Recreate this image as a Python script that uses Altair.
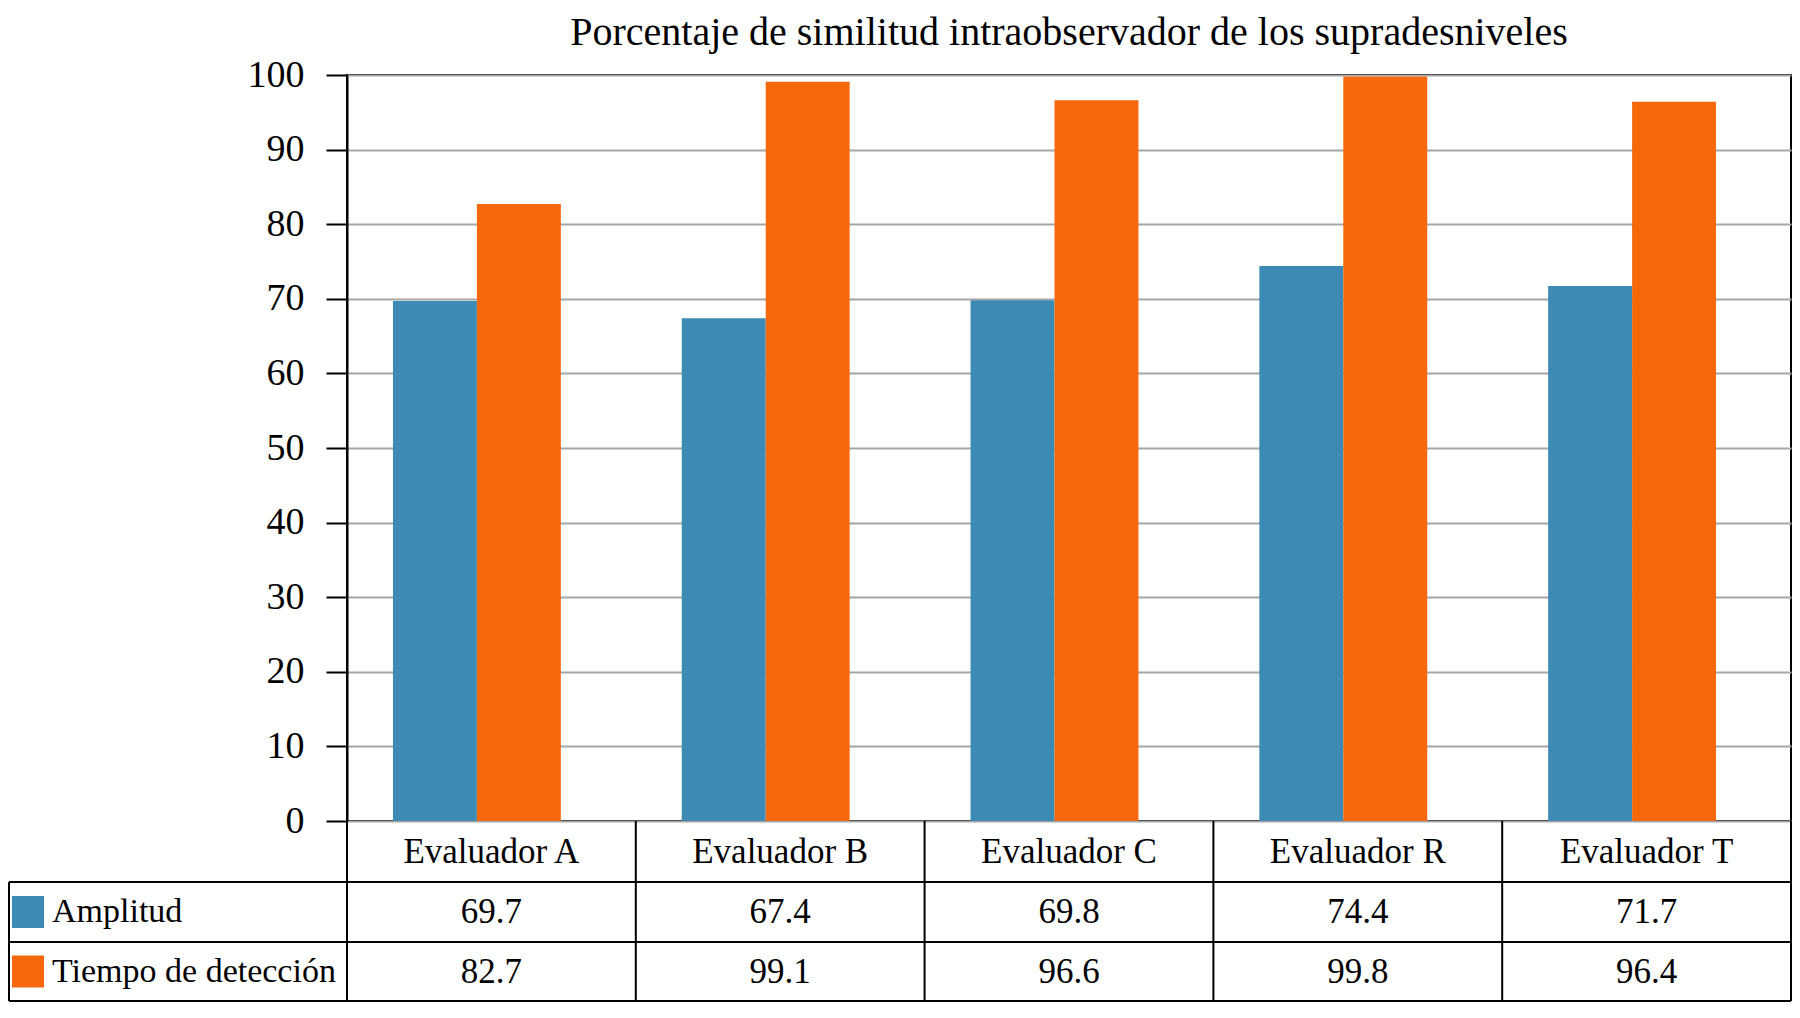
import altair as alt
import pandas as pd

# ---- data ----
evaluadores = ["Evaluador A", "Evaluador B", "Evaluador C", "Evaluador R", "Evaluador T"]
series = ["Amplitud", "Tiempo de detección"]
amplitud = [69.7, 67.4, 69.8, 74.4, 71.7]
tiempo = [82.7, 99.1, 96.6, 99.8, 96.4]
colores = ["#3d8ab5", "#f6680c"]
y_ticks = [0, 10, 20, 30, 40, 50, 60, 70, 80, 90, 100]
titulo = "Porcentaje de similitud intraobservador de los supradesniveles"

rows = []
for s, vals in zip(series, [amplitud, tiempo]):
    for e, v in zip(evaluadores, vals):
        rows.append({"evaluador": e, "serie": s, "valor": v})
df = pd.DataFrame(rows)
df_eval = pd.DataFrame({"evaluador": evaluadores})
df_series = pd.DataFrame({"serie": series})
df_title = pd.DataFrame({"t": [titulo]})
one = pd.DataFrame({"k": [0]})

# ---- layout (pixels, plot-area coordinates) ----
W, H = 1444, 746
ROW1, ROW2, ROW3 = 807, 867, 926   # bottoms of table rows
LEFT = -338                         # left edge of table
FONT = "Liberation Serif"
FS_TABLE = 35

x_enc = alt.X("evaluador:N", sort=evaluadores, axis=None,
              scale=alt.Scale(paddingInner=0, paddingOuter=0))
color_enc = alt.Color("serie:N", scale=alt.Scale(domain=series, range=colores), legend=None)

bars = alt.Chart(df).mark_bar().encode(
    x=x_enc,
    xOffset=alt.XOffset("serie:N", sort=series,
                        scale=alt.Scale(paddingInner=0, paddingOuter=0.72, align=0.38)),
    y=alt.Y("valor:Q", title=None,
            scale=alt.Scale(domain=[0, 100], nice=False),
            axis=alt.Axis(values=y_ticks, labelFont=FONT, labelFontSize=38, labelColor="black",
                          labelPadding=22, tickSize=21, tickColor="black", tickWidth=2,
                          domainColor="black", domainWidth=2,
                          grid=True, gridColor="#a6a6a6", gridWidth=2)),
    color=color_enc,
)

title_mark = alt.Chart(df_title).mark_text(
    font=FONT, fontSize=40, color="black", align="center", baseline="alphabetic").encode(
    x=alt.value(W / 2), y=alt.value(-30), text="t:N")

header = alt.Chart(df_eval).mark_text(font=FONT, fontSize=FS_TABLE, color="black",
                                      baseline="middle").encode(
    x=x_enc, y=alt.value((H + ROW1) / 2), text="evaluador:N")

row_layers = []
row_centers = [(ROW1 + ROW2) / 2, (ROW2 + ROW3) / 2]
for s, yc in zip(series, row_centers):
    vals = alt.Chart(df).transform_filter(alt.datum.serie == s).mark_text(
        font=FONT, fontSize=FS_TABLE, color="black", baseline="middle").encode(
        x=x_enc, y=alt.value(yc), text=alt.Text("valor:Q", format=".1f"))
    sw = alt.Chart(df_series).transform_filter(alt.datum.serie == s).mark_square(
        size=1024, opacity=1, filled=True).encode(
        x=alt.value(LEFT + 19), y=alt.value(yc), color=color_enc)
    lab = alt.Chart(df_series).transform_filter(alt.datum.serie == s).mark_text(
        font=FONT, fontSize=34, color="black", align="left", baseline="middle").encode(
        x=alt.value(LEFT + 43), y=alt.value(yc), text="serie:N")
    row_layers += [vals, sw, lab]

line_style = dict(color="black", strokeWidth=2)
hlines = [
    alt.Chart(one).mark_rule(**line_style).encode(
        x=alt.value(LEFT), x2=alt.value(W), y=alt.value(yv))
    for yv in [ROW1, ROW2, ROW3]
]
vsep = alt.Chart(df_eval).mark_rule(**line_style).encode(
    x=alt.X("evaluador:N", sort=evaluadores, bandPosition=0),
    y=alt.value(H), y2=alt.value(ROW3))
vright = alt.Chart(one).mark_rule(**line_style).encode(
    x=alt.value(W), y=alt.value(H), y2=alt.value(ROW3))
vleft = alt.Chart(one).mark_rule(**line_style).encode(
    x=alt.value(LEFT), y=alt.value(ROW1), y2=alt.value(ROW3))

chart = alt.layer(bars, title_mark, header, *row_layers, *hlines, vsep, vright, vleft).properties(
    width=W, height=H,
    autosize=alt.AutoSizeParams(type="none"),
    padding={"left": 339, "top": 67, "right": 1, "bottom": 182},
).configure_view(stroke="black", strokeWidth=2)

chart.save("out.html", embed_options={"renderer": "svg", "actions": False})
